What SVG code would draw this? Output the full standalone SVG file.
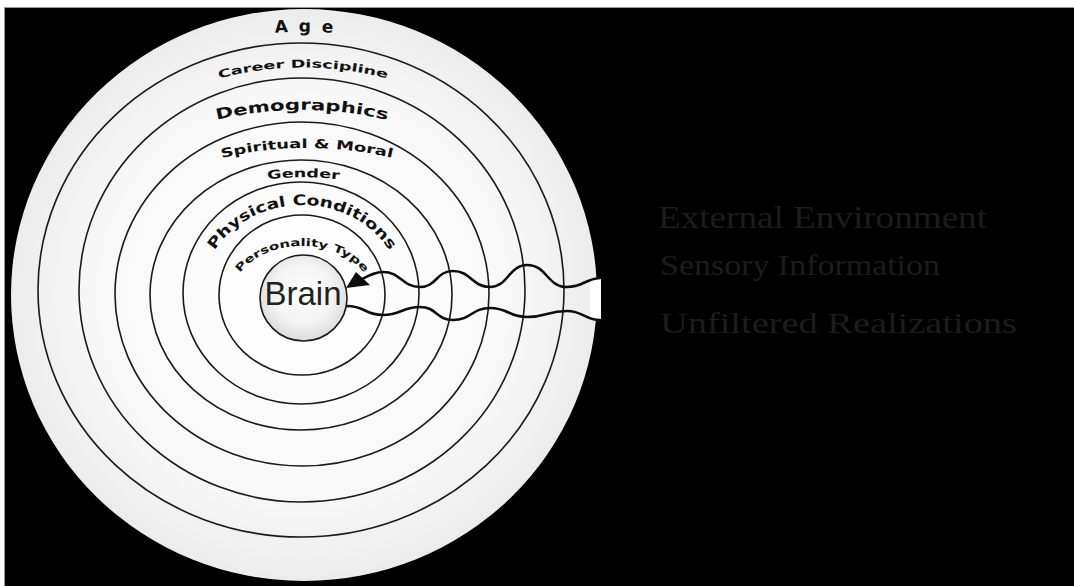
<svg xmlns="http://www.w3.org/2000/svg" width="1074" height="586" viewBox="0 0 1074 586">
<defs>
<radialGradient id="discG" cx="50%" cy="50%" r="50%">
<stop offset="0" stop-color="#ffffff"/>
<stop offset="0.7" stop-color="#f8f8f8"/>
<stop offset="1" stop-color="#ececec"/>
</radialGradient>
<radialGradient id="brainG" cx="50%" cy="45%" r="55%">
<stop offset="0" stop-color="#ffffff"/>
<stop offset="0.6" stop-color="#f4f4f4"/>
<stop offset="1" stop-color="#dcdcdc"/>
</radialGradient>
<path id="pAge" d="M 240,37 A 400 400 0 0 1 368,37"/>
<path id="pCareer" d="M 210,81 A 327 327 0 0 1 396,81"/>
<path id="pDemo" d="M 205,123 A 366 366 0 0 1 399,123"/>
<path id="pSpirit" d="M 210,161 A 366 366 0 0 1 404,161"/>
<path id="pGender" d="M 256,181 A 300 300 0 0 1 351,181"/>
<path id="pPhys" d="M 202,294 A 100 89 0 0 1 402,294"/>
<path id="pPers" d="M 232,296 A 70 50 0 0 1 372,296"/>
</defs>
<style>
.ring{fill:none;stroke:#1a1a1a;stroke-width:1.6}
.lbl{font-family:"DejaVu Sans",sans-serif;font-weight:bold;fill:#111}
.wave{fill:none;stroke:#0d0d0d;stroke-width:2.6;stroke-linecap:round}
.env{font-family:"Liberation Serif",serif;fill:#1c1c1c}
</style>
<rect x="0" y="0" width="1074" height="586" fill="#ffffff"/>
<rect x="4.5" y="7.5" width="1075" height="585" fill="#000000" stroke="#9a9a9a" stroke-width="1"/>

<g id="disc">
<ellipse cx="304" cy="295" rx="293" ry="286" fill="url(#discG)"/>
<path d="M 590,280 L 601,278 L 601,320 L 590,317 Z" fill="#ffffff"/>
</g>

<g id="rings">
<ellipse class="ring" cx="301" cy="290" rx="263" ry="247"/>
<ellipse class="ring" cx="302" cy="290" rx="223" ry="212"/>
<ellipse class="ring" cx="302" cy="294" rx="187" ry="172"/>
<ellipse class="ring" cx="301" cy="295" rx="151" ry="135"/>
<ellipse class="ring" cx="301" cy="293" rx="118" ry="111"/>
<ellipse class="ring" cx="302" cy="295" rx="83" ry="80"/>
</g>

<g id="brain">
<ellipse cx="303.5" cy="298" rx="43.5" ry="43" fill="url(#brainG)" stroke="#1a1a1a" stroke-width="1.6"/>
<text x="303" y="305" text-anchor="middle" font-family="'Liberation Sans',sans-serif" font-size="33" fill="#222">Brain</text>
</g>

<g id="labels">
<text class="lbl" font-size="17"><textPath href="#pAge" startOffset="50%" text-anchor="middle" textLength="58" lengthAdjust="spacing">Age</textPath></text>
<text class="lbl" font-size="11"><textPath href="#pCareer" startOffset="50%" text-anchor="middle" textLength="170" lengthAdjust="spacingAndGlyphs">Career Discipline</textPath></text>
<text class="lbl" font-size="15"><textPath href="#pDemo" startOffset="50%" text-anchor="middle" textLength="172" lengthAdjust="spacingAndGlyphs">Demographics</textPath></text>
<text class="lbl" font-size="12.5"><textPath href="#pSpirit" startOffset="50%" text-anchor="middle" textLength="172" lengthAdjust="spacingAndGlyphs">Spiritual &amp; Moral</textPath></text>
<text class="lbl" font-size="12"><textPath href="#pGender" startOffset="50%" text-anchor="middle" textLength="72" lengthAdjust="spacingAndGlyphs">Gender</textPath></text>
<text class="lbl" font-size="14.5"><textPath href="#pPhys" startOffset="50%" text-anchor="middle" textLength="205" lengthAdjust="spacingAndGlyphs">Physical Conditions</textPath></text>
<text class="lbl" font-size="10.5"><textPath href="#pPers" startOffset="50%" text-anchor="middle" textLength="140" lengthAdjust="spacingAndGlyphs">Personality Type</textPath></text>
</g>

<g id="connectors">
<path class="wave" d="M 362,279 C 370,275 375,272 383,272 C 401,272 402,287 420,287 C 437,287 436,271 453,271 C 471,271 472,287 490,287 C 508,287 509,265 527,265 C 547,265 547,287 567,287 C 583,287 585,279 600,278"/>
<path class="wave" d="M 347,306 C 365,306 365,315 383,315 C 401,315 402,307 420,307 C 437,307 436,320 453,320 C 471,320 472,308 490,308 C 508,308 509,317 527,317 C 547,317 547,311 567,311 C 583,311 585,320 600,320"/>
<polygon points="346,288 356,272 370,285" fill="#0d0d0d"/>
</g>

<g id="environment">
<text class="env" x="658" y="228" font-size="32" textLength="329" lengthAdjust="spacingAndGlyphs">External Environment</text>
<text class="env" x="660" y="275" font-size="30" textLength="280" lengthAdjust="spacingAndGlyphs">Sensory Information</text>
<text class="env" x="660" y="333" font-size="30" textLength="357" lengthAdjust="spacingAndGlyphs">Unfiltered Realizations</text>
</g>
</svg>
